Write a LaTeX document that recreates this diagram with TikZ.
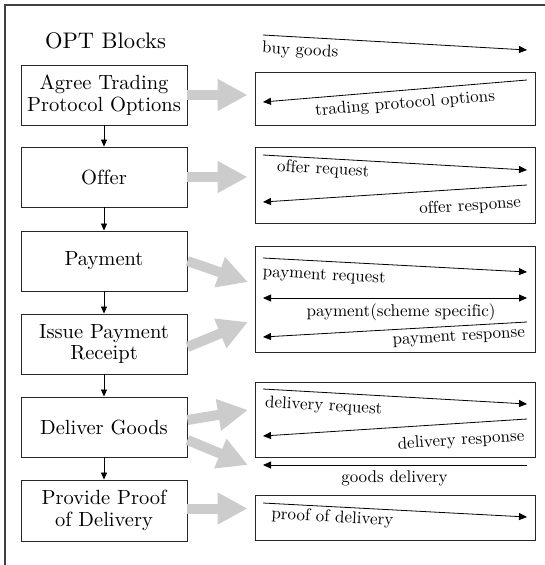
\documentclass[tikz,border=0pt]{standalone}
\usepackage{fontspec}
\setmainfont{lmroman10-regular.otf}[Ligatures=NoCommon]
\usetikzlibrary{arrows.meta,calc}
\begin{document}
\begin{tikzpicture}[x=1pt,y=-1pt,
  blk/.style={draw=black!85, line width=0.9pt, minimum width=166pt, minimum height=60pt, align=center, inner sep=0pt, font=\fontsize{20.5}{21.5}\selectfont},
  msgbox/.style={draw=black!85, line width=0.9pt, minimum width=280pt, inner sep=0pt},
  msg/.style={line width=0.8pt, -{Triangle[length=8pt,width=7pt]}},
  rmsg/.style={line width=0.8pt, {Triangle[length=8pt,width=7pt]}-},
  bmsg/.style={line width=0.8pt, {Triangle[length=8pt,width=7pt]}-{Triangle[length=8pt,width=7pt]}},
  lbl/.style={font=\fontsize{17}{17}\selectfont, sloped, anchor=base, inner sep=0pt},
  fat/.style={line width=10pt, draw=black!20, -{Triangle[length=30pt,width=30pt]}},
  flow/.style={line width=0.8pt, -{Triangle[length=7pt,width=6pt]}}
]
\useasboundingbox (0,0) rectangle (545,565);
% frame
\draw[line width=1.2pt, black!75] (5,565) -- (5,5) -- (545,5);
% title
\node[anchor=base, font=\fontsize{22.5}{22.5}\selectfont, inner sep=0pt] (title) at (105.5,48) {OPT Blocks};
% left blocks
\node[blk] (b1) at (104,95) {Agree Trading\\Protocol Options};
\node[blk] (b2) at (104,177) {Offer};
\node[blk] (b3) at (104,261) {Payment};
\node[blk] (b4) at (104,344) {Issue Payment\\Receipt};
\node[blk] (b5) at (104,427) {Deliver Goods};
\node[blk, minimum height=61pt] (b6) at (104,510.5) {Provide Proof\\of Delivery};
\draw[flow] (b1) -- (b2);
\draw[flow] (b2) -- (b3);
\draw[flow] (b3) -- (b4);
\draw[flow] (b4) -- (b5);
\draw[flow] (b5) -- (b6);
% right boxes
\node[msgbox, minimum height=53pt] (r1) at (395,98.5) {};
\node[msgbox, minimum height=76pt] (r2) at (395,185) {};
\node[msgbox, minimum height=106pt] (r3) at (395,299) {};
\node[msgbox, minimum height=75pt] (r4) at (395,419.5) {};
\node[msgbox, minimum height=45pt] (r5) at (395,517.5) {};
% message end points
\coordinate (m1a) at (263,35);  \coordinate (m1b) at (527,50);
\coordinate (m2a) at (263,102); \coordinate (m2b) at (527,80);
\coordinate (m3a) at (263,155); \coordinate (m3b) at (527,170);
\coordinate (m4a) at (263,202); \coordinate (m4b) at (527,185);
\coordinate (m5a) at (263,258); \coordinate (m5b) at (527,272);
\coordinate (m6a) at (263,298); \coordinate (m6b) at (527,298);
\coordinate (m7a) at (263,337); \coordinate (m7b) at (527,322);
\coordinate (m8a) at (263,389); \coordinate (m8b) at (527,404);
\coordinate (m9a) at (263,436); \coordinate (m9b) at (527,419);
\coordinate (m10a) at (263,465); \coordinate (m10b) at (527,465);
\coordinate (m11a) at (263,503); \coordinate (m11b) at (527,517);
% messages
\draw[msg] (m1a) -- (m1b) node[lbl, pos=0.144, yshift=-18pt] {buy goods};
\draw[rmsg] (m2a) -- (m2b) node[lbl, pos=0.534, yshift=-18pt] {trading protocol options};
\draw[msg] (m3a) -- (m3b) node[lbl, pos=0.23, yshift=-15.5pt] {offer request};
\draw[rmsg] (m4a) -- (m4b) node[lbl, pos=0.78, yshift=-22pt] {offer response};
\draw[msg] (m5a) -- (m5b) node[lbl, pos=0.235, yshift=-18.5pt] {payment request};
\draw[bmsg] (m6a) -- (m6b) node[lbl, pos=0.523, yshift=-18pt] {payment(scheme specific)};
\draw[rmsg] (m7a) -- (m7b) node[lbl, pos=0.739, yshift=-15pt] {payment response};
\draw[msg] (m8a) -- (m8b) node[lbl, pos=0.233, yshift=-18pt] {delivery request};
\draw[rmsg] (m9a) -- (m9b) node[lbl, pos=0.746, yshift=-21.7pt] {delivery response};
\draw[rmsg] (m10a) -- (m10b) node[lbl, pos=0.498, yshift=-17pt] {goods delivery};
\draw[msg] (m11a) -- (m11b) node[lbl, pos=0.265, yshift=-15.5pt] {proof of delivery};
% fat gray arrows
\coordinate (f3) at (248,282);
\coordinate (f4) at (248,322);
\coordinate (f5s) at ([yshift=7pt]b5.east);
\coordinate (f6s) at ([yshift=-13pt]b5.east);
\coordinate (f5) at (248,410);
\coordinate (f6) at (248,465);
\draw[fat, shorten >=7pt] (b1) -- (b1 -| r1.west);
\draw[fat, shorten >=7pt] (b2.east) -- (b2.east -| r2.west);
\draw[fat] (b3.east) -- (f3);
\draw[fat] ([yshift=-3pt]b4.east) -- (f4);
\draw[fat] (f5s) -- (f5);
\draw[fat] (f6s) -- (f6);
\draw[fat, shorten >=7pt] ([yshift=2pt]b6.east) -- ([yshift=2pt]b6.east -| r5.west);
\end{tikzpicture}
\end{document}
